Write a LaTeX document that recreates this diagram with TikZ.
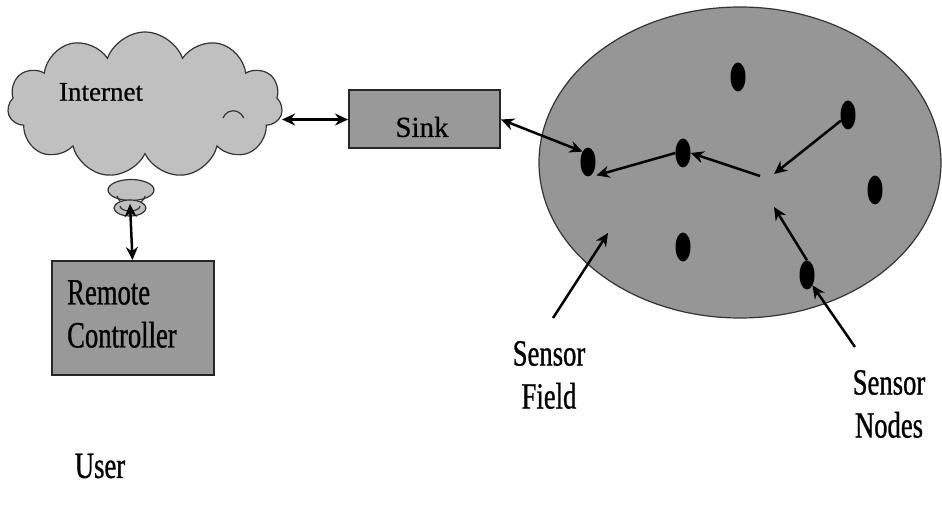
\documentclass[tikz,border=0pt]{standalone}
\usepackage{fontspec}
\setmainfont{Liberation Serif}[FakeBold=0.6]
\newfontfamily\tallserif{Liberation Serif}[FakeStretch=0.72,FakeBold=0.8]
\usetikzlibrary{shapes.symbols,shapes.geometric,arrows.meta,calc}
\definecolor{cloudgray}{RGB}{192,192,192}
\definecolor{boxgray}{RGB}{153,153,153}
\definecolor{fieldgray}{RGB}{150,150,150}
\tikzset{
  arr/.style={-{Stealth[length=13pt,width=12pt]}, line width=2.5pt},
  dblarr/.style={{Stealth[length=13pt,width=12pt]}-{Stealth[length=13pt,width=12pt]}, line width=2.5pt},
  puff/.style={draw=black!80, line width=1.2pt, fill=cloudgray},
  graybox/.style={draw=black!85, line width=2pt, fill=boxgray},
  sensor/.style={ellipse, fill=black, minimum width=15pt, minimum height=29pt, inner sep=0pt},
  normtext/.style={font=\fontsize{27}{32}\selectfont, inner sep=0pt},
  talltext/.style={font=\tallserif\fontsize{37}{43}\selectfont, inner sep=0pt, align=center},
}
\begin{document}
\begin{tikzpicture}[x=1pt,y=-1pt]
\useasboundingbox (0,0) rectangle (942,510);

% Internet cloud with its two small trailing puffs
\node[puff, cloud, cloud puffs=11, cloud puff arc=140, aspect=1.9,
      minimum width=275pt, minimum height=146pt] (cloud) at (145,105) {};
\draw[black!80, line width=1.2pt] (223,118) arc[start angle=160, end angle=20, radius=11pt];
\node[normtext] (inet) at (101,92) {Internet};
\node[puff, ellipse, minimum width=46pt, minimum height=21pt, inner sep=0pt] (puffA) at (131,190) {};
\draw[black!80, line width=1.2pt] (117,196) arc[start angle=200, end angle=340, radius=15pt];
\node[puff, ellipse, minimum width=32pt, minimum height=16pt, inner sep=0pt] (puffB) at (130,208) {};
\draw[black!80, line width=1.2pt] (120,206) arc[start angle=180, end angle=360, x radius=10pt, y radius=5pt];

% Sink and remote controller
\node[graybox, minimum width=151pt, minimum height=58pt] (sink) at (424.5,119.5) {};
\node[normtext, font=\fontsize{29}{34}\selectfont] at (422,127) {Sink};

\node[graybox, minimum width=162pt, minimum height=114pt] (remote) at (132.5,318) {};
\node[talltext, align=left, anchor=north west] (rtext) at (67,280) {Remote\\Controller};

\node[talltext] (user) at (100,466) {User};

% Sensor field
\node[ellipse, draw=black!80, line width=1.2pt, fill=fieldgray,
      minimum width=402pt, minimum height=311pt] (field) at (740,162.5) {};

\node[sensor] (n1) at (738,77) {};
\node[sensor] (n2) at (848,115) {};
\node[sensor] (n3) at (588,162) {};
\node[sensor] (n4) at (683,153) {};
\node[sensor] (n5) at (875,190) {};
\node[sensor] (n6) at (683,247) {};
\node[sensor] (n7) at (807,275) {};

% relay point between the routes
\coordinate (hubout) at (760,176);
\coordinate (hubin) at (774,174);
\coordinate (hublow) at (774,207);

\draw[arr] (n2) -- (hubin);
\draw[arr] (n7.north) -- (hublow);
\draw[arr] (hubout) -- (n4.east);
\draw[arr] (n4.west) -- ($(n3.south east)+(3,3)$);

% links
\draw[dblarr] (cloud.east |- sink.west) -- (sink.west);
\draw[dblarr] (sink.east) -- (n3.north west);
\draw[dblarr] ($(puffB.center)+(0,-4)$) -- (remote.north);

% annotations
\node[talltext] (sf) at (549,375) {Sensor\\Field};
\node[talltext] (sn) at (889,404) {Sensor\\Nodes};
\coordinate (sftail) at (553,318);
\coordinate (sntail) at (855,347);
\draw[arr] (sftail) -- (608,233);
\draw[arr] (sntail) -- (n7.south east);
\end{tikzpicture}
\end{document}
